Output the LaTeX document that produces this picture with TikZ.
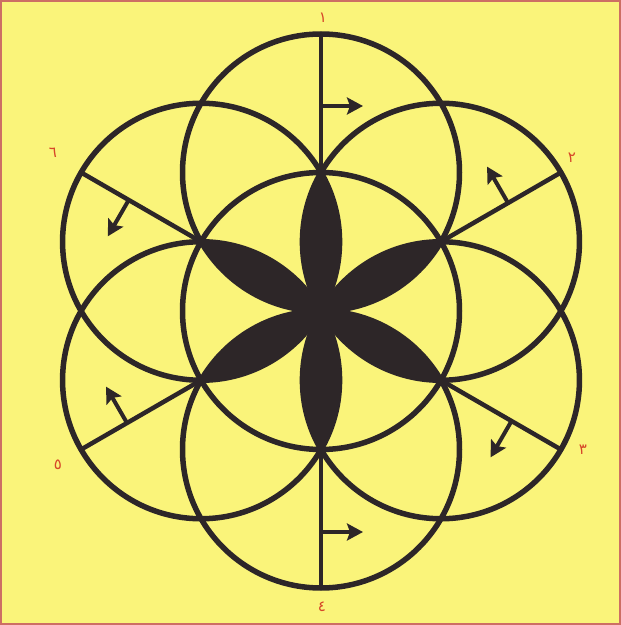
\documentclass[tikz,border=0pt]{standalone}
\usepackage{fontspec}
\newfontfamily\arabicfont[Script=Arabic]{DejaVu Sans}
\usetikzlibrary{arrows.meta}
\definecolor{bg}{RGB}{250,244,122}
\definecolor{ink}{RGB}{45,38,40}
\definecolor{lbl}{RGB}{214,70,40}
\definecolor{frame}{RGB}{205,110,100}
\begin{document}
\begin{tikzpicture}[x=1pt,y=1pt,
 ring/.style={draw=ink,line width=5.5pt},
 ray/.style={draw=ink,line width=4.5pt},
 flow/.style={draw=ink,line width=4pt,-{Stealth[length=16pt,width=17pt,inset=3pt]}},
 petal/.style={fill=ink},
 numlabel/.style={text=lbl,font=\arabicfont\fontsize{15}{15}\selectfont,inner sep=0pt}]
\useasboundingbox (0,0) rectangle (621,625);
\fill[bg] (0,0) rectangle (621,625);
\draw[frame,line width=2pt] (1,1) rectangle (620,624);
\def\R{138.5}
\coordinate (C) at (321,314);
\foreach \t in {90,30,-30,-90,-150,150} {
  \pgfmathsetmacro{\aa}{\t+120}
  \pgfmathsetmacro{\ab}{\t+60}
  \pgfmathsetmacro{\ac}{\t-60}
  \pgfmathsetmacro{\ad}{\t-120}
  \fill[petal] (C) arc[start angle=\aa, end angle=\ab, radius=\R]
     arc[start angle=\ac, end angle=\ad, radius=\R] -- cycle;
}
\draw[ring] (C) circle[radius=\R];
\foreach \t in {90,30,-30,-90,-150,150} {
  \draw[ring] (C) ++(\t:\R) circle[radius=\R];
  \draw[ray] (C) ++(\t:\R) -- ++(\t:\R);
}
\foreach \t/\d/\a in {90/205/0, 30/216/120, -30/220/240, -90/221/0, 210/224/120, 150/222/240} {
  \draw[flow] (C) ++(\t:\d) -- ++(\a:42);
}
\node[numlabel] (n1) at (323,607) {١};
\node[numlabel] (n2) at (572,467) {٢};
\node[numlabel] (n3) at (583,175) {٣};
\node[numlabel] (n4) at (322,18) {٤};
\node[numlabel] (n5) at (58,160) {٥};
\node[numlabel] (n6) at (53,472) {٦};
\end{tikzpicture}
\end{document}
